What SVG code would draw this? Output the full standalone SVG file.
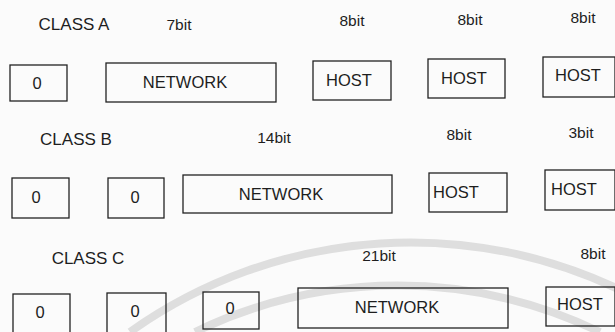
<svg xmlns="http://www.w3.org/2000/svg" width="615" height="332" viewBox="0 0 615 332">
<style>
.bx{fill:none;stroke:#222;stroke-width:1.3}
.t{font-family:"Liberation Sans",Arial,sans-serif;font-size:16.5px;fill:#1e1e1e;text-anchor:middle}
.c{font-family:"Liberation Sans",Arial,sans-serif;font-size:17px;fill:#1e1e1e;text-anchor:middle}
.b{font-family:"Liberation Sans",Arial,sans-serif;font-size:15.5px;fill:#1e1e1e;text-anchor:middle}
.wm{fill:none;stroke:#dedede;stroke-width:8}
</style>
<rect width="615" height="332" fill="#fbfbfb"/>
<g id="watermark">
<path class="wm" d="M130,332 A485,485 0 0 1 640,300"/>
<path class="wm" d="M195,332 A465,465 0 0 1 600,332"/>
</g>
<g id="labels">
<text class="c" x="74" y="30">CLASS A</text>
<text class="b" x="179" y="30">7bit</text>
<text class="b" x="352" y="26">8bit</text>
<text class="b" x="470" y="25">8bit</text>
<text class="b" x="583" y="23">8bit</text>
<text class="c" x="76" y="145">CLASS B</text>
<text class="b" x="274" y="143">14bit</text>
<text class="b" x="459" y="140">8bit</text>
<text class="b" x="581" y="138">3bit</text>
<text class="c" x="88" y="264">CLASS C</text>
<text class="b" x="379" y="261">21bit</text>
<text class="b" x="593" y="259">8bit</text>
</g>
<g id="a0"><rect class="bx" x="10" y="65" width="57" height="36"/><text class="t" x="37" y="89">0</text></g>
<g id="anet"><rect class="bx" x="106" y="63" width="170" height="39"/><text class="t" x="185" y="88">NETWORK</text></g>
<g id="ahost1"><rect class="bx" x="313" y="61" width="78" height="39"/><text class="t" x="349" y="86">HOST</text></g>
<g id="ahost2"><rect class="bx" x="428" y="59" width="77" height="39"/><text class="t" x="464" y="84">HOST</text></g>
<g id="ahost3"><rect class="bx" x="543" y="57" width="72" height="40"/><text class="t" x="578" y="81">HOST</text></g>
<g id="b0a"><rect class="bx" x="12" y="178" width="57" height="40"/><text class="t" x="36" y="203">0</text></g>
<g id="b0b"><rect class="bx" x="108" y="178" width="56" height="40"/><text class="t" x="135" y="203">0</text></g>
<g id="bnet"><rect class="bx" x="183" y="175" width="209" height="38"/><text class="t" x="281" y="200">NETWORK</text></g>
<g id="bhost1"><rect class="bx" x="429" y="173" width="78" height="39"/><text class="t" x="456" y="198">HOST</text></g>
<g id="bhost2"><rect class="bx" x="545" y="170" width="70" height="40"/><text class="t" x="574" y="195">HOST</text></g>
<g id="c0a"><rect class="bx" x="13" y="294" width="57" height="40"/><text class="t" x="40" y="318">0</text></g>
<g id="c0b"><rect class="bx" x="107" y="293" width="59" height="40"/><text class="t" x="135" y="317">0</text></g>
<g id="c0c"><rect class="bx" x="203" y="292" width="56" height="37"/><text class="t" x="230" y="314">0</text></g>
<g id="cnet"><rect class="bx" x="298" y="288" width="210" height="40"/><text class="t" x="397" y="313">NETWORK</text></g>
<g id="chost"><rect class="bx" x="546" y="287" width="69" height="39"/><text class="t" x="580" y="310">HOST</text></g>
<g id="connectors"/>
</svg>
